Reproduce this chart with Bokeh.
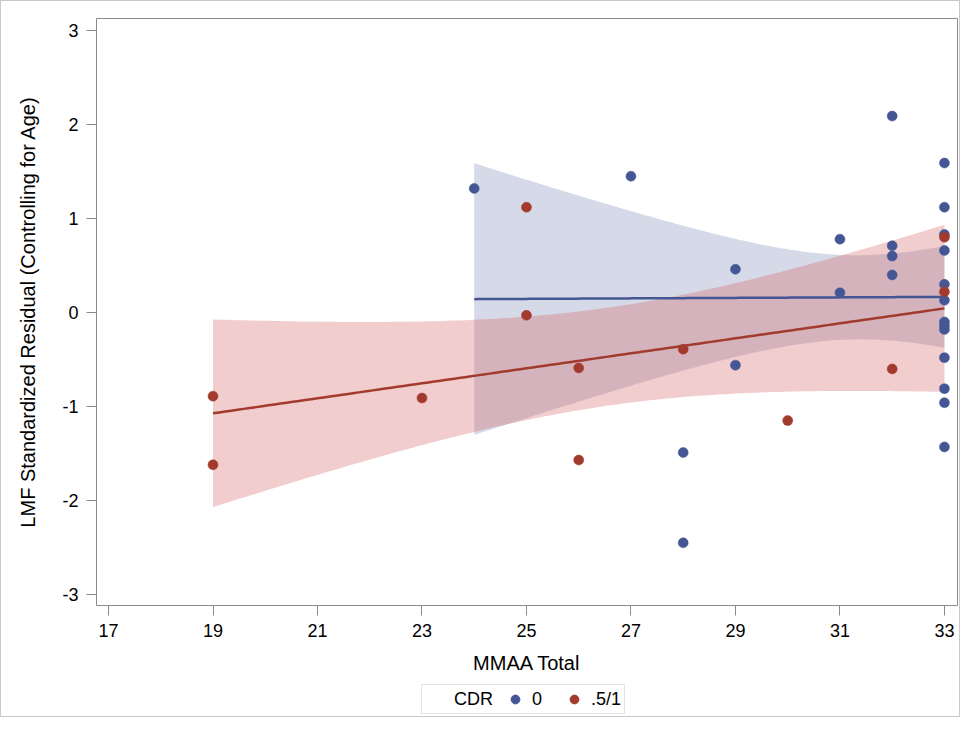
import math
import numpy as np
from bokeh.plotting import figure
from bokeh.layouts import column
from bokeh.models import Range1d, FixedTicker, Legend, LegendItem
from bokeh.embed import file_html
from bokeh.resources import INLINE

# ---- data ----
x_ticks = [17, 19, 21, 23, 25, 27, 29, 31, 33]
y_ticks = [-3, -2, -1, 0, 1, 2, 3]

cdr0_x = [24, 27, 28, 28, 29, 29, 31, 31, 32, 32, 32, 32,
          33, 33, 33, 33, 33, 33, 33, 33, 33, 33, 33, 33, 33]
cdr0_y = [1.32, 1.45, -1.49, -2.45, 0.46, -0.56, 0.78, 0.21, 2.09, 0.71, 0.60, 0.40,
          1.59, 1.12, 0.83, 0.66, 0.30, 0.13, -0.10, -0.14, -0.18, -0.48, -0.81, -0.96, -1.43]

cdr1_x = [19, 19, 23, 25, 25, 26, 26, 28, 30, 32, 33, 33]
cdr1_y = [-0.89, -1.62, -0.91, 1.12, -0.03, -0.59, -1.57, -0.39, -1.15, -0.60, 0.80, 0.22]

group_labels = ["0", ".5/1"]
legend_title = "CDR"

BLUE = "#445694"
RED = "#A23A2E"
BLUE_FILL = "#445694"
RED_FILL = "#D05B5B"
FONT = "Liberation Sans"


def t_quantile(df, p=0.975):
    # numerical inversion of Student's t CDF
    c = math.exp(math.lgamma((df + 1) / 2) - math.lgamma(df / 2)) / math.sqrt(df * math.pi)
    grid = np.linspace(0, 10, 200001)
    pdf = c * (1 + grid ** 2 / df) ** (-(df + 1) / 2)
    cdf = 0.5 + np.concatenate([[0], np.cumsum((pdf[1:] + pdf[:-1]) / 2 * np.diff(grid))])
    return float(np.interp(p, cdf, grid))


def fit_with_clm(xs, ys):
    xs = np.asarray(xs, float)
    ys = np.asarray(ys, float)
    n = len(xs)
    slope, icpt = np.polyfit(xs, ys, 1)
    resid = ys - (icpt + slope * xs)
    s = math.sqrt(np.sum(resid ** 2) / (n - 2))
    xbar = xs.mean()
    sxx = np.sum((xs - xbar) ** 2)
    t = t_quantile(n - 2)
    gx = np.linspace(xs.min(), xs.max(), 120)
    gy = icpt + slope * gx
    half = t * s * np.sqrt(1.0 / n + (gx - xbar) ** 2 / sxx)
    return gx, gy, gy - half, gy + half


p = figure(
    width=958, height=680,
    min_border_left=95, min_border_right=2, min_border_top=17, min_border_bottom=76,
    x_range=Range1d(16.77, 33.25), y_range=Range1d(-3.117, 3.128),
    output_backend="svg", toolbar_location=None,
    background_fill_color="white", border_fill_color="white",
)
p.outline_line_color = "#8a8a8a"
p.outline_line_width = 1
p.xgrid.visible = False
p.ygrid.visible = False

for ax in (p.xaxis[0], p.yaxis[0]):
    ax.axis_line_color = None
    ax.major_tick_line_color = "#8a8a8a"
    ax.minor_tick_line_color = None
    ax.major_tick_in = 0
    ax.major_label_text_font = FONT
    ax.major_label_text_font_size = "18px"
    ax.major_label_text_color = "#000000"
    ax.axis_label_text_font = FONT
    ax.axis_label_text_font_size = "20px"
    ax.axis_label_text_font_style = "normal"
    ax.axis_label_text_color = "#000000"

p.xaxis.ticker = FixedTicker(ticks=x_ticks)
p.yaxis.ticker = FixedTicker(ticks=y_ticks)
p.yaxis.major_label_overrides = {v: str(v) for v in y_ticks}
p.xaxis.major_tick_out = 10
p.yaxis.major_tick_out = 10
p.xaxis.major_label_standoff = 8
p.yaxis.major_label_standoff = 8
p.xaxis.axis_label = "MMAA Total"
p.yaxis.axis_label = "LMF Standardized Residual (Controlling for Age)"
p.xaxis.axis_label_standoff = 12
p.yaxis.axis_label_standoff = 20

# confidence bands
bx0, by0, lo0, hi0 = fit_with_clm(cdr0_x, cdr0_y)
bx1, by1, lo1, hi1 = fit_with_clm(cdr1_x, cdr1_y)
p.varea(x=bx0, y1=lo0, y2=hi0, fill_color=BLUE_FILL, fill_alpha=0.22)
p.varea(x=bx1, y1=lo1, y2=hi1, fill_color=RED_FILL, fill_alpha=0.30)
p.line(bx0, by0, line_color=BLUE, line_width=2.5)
p.line(bx1, by1, line_color=RED, line_width=2.5)

p.scatter(cdr0_x, cdr0_y, size=10, fill_color=BLUE, line_color=BLUE, line_width=0.5)
p.scatter(cdr1_x, cdr1_y, size=10, fill_color=RED, line_color=RED, line_width=0.5)

# ---- legend strip below the chart (its frame is aligned with the chart frame) ----
lg = figure(
    width=958, height=35, min_border=0,
    x_range=Range1d(100, 101), y_range=Range1d(100, 101),   # keeps the key renderers out of view
    output_backend="svg", toolbar_location=None,
    background_fill_color="white", border_fill_color="white",
)
lg.axis.visible = False
lg.grid.visible = False
lg.outline_line_color = None
k_t = lg.scatter(cdr0_x, cdr0_y, size=10, fill_alpha=0, line_alpha=0)
k0 = lg.scatter(cdr0_x, cdr0_y, size=10, fill_color=BLUE, line_color=BLUE)
k1 = lg.scatter(cdr1_x, cdr1_y, size=10, fill_color=RED, line_color=RED)
legend = Legend(
    items=[LegendItem(label=legend_title, renderers=[k_t]),
           LegendItem(label=group_labels[0], renderers=[k0]),
           LegendItem(label=group_labels[1], renderers=[k1])],
    orientation="horizontal", location=(325, 2),
    label_text_font=FONT, label_text_font_size="18px", label_text_color="#000000",
    border_line_color="#c8c8c8", border_line_width=1,
    background_fill_color="white", background_fill_alpha=1.0,
    glyph_width=24, glyph_height=22, label_standoff=5, spacing=10,
    padding=3, margin=0,
)
lg.add_layout(legend, "center")

layout = column(p, lg, spacing=0, styles={"border": "1px solid #c8c8c8"})

open("out.html", "w").write(file_html(layout, INLINE))
